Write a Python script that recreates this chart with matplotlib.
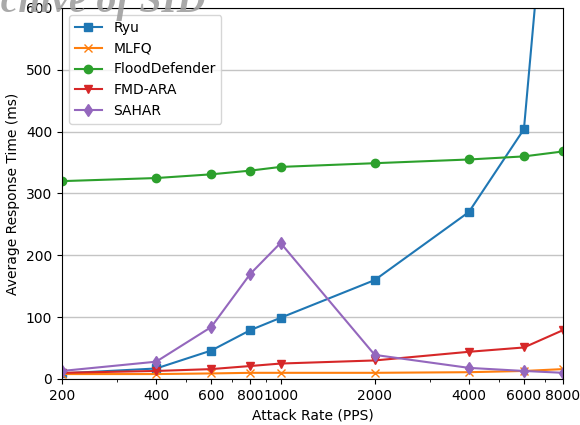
import matplotlib
matplotlib.use("Agg")
import matplotlib.pyplot as plt
from matplotlib.ticker import FixedLocator, FixedFormatter, NullFormatter

rates = [200, 400, 600, 800, 1000, 2000, 4000, 6000, 8000]
ryu = [9, 17, 46, 79, 99, 160, 270, 404, 1110]
mlfq = [8, 8, 9, 10, 10, 10, 11, 13, 16]
flood = [320, 325, 331, 337, 343, 349, 355, 360, 368]
fmd = [10, 13, 16, 21, 25, 30, 44, 51, 79]
sahar = [13, 28, 84, 170, 220, 39, 18, 13, 10]
tick_labels = ["200", "400", "600", "800", "1000", "2000", "4000", "6000", "8000"]

fig = plt.figure(figsize=(5.8, 4.25), dpi=100)
ax = fig.add_axes([62/580, 46/425, 501/580, 371/425])

ax.plot(rates, ryu, marker="s", color="#1f77b4", label="Ryu")
ax.plot(rates, mlfq, marker="x", color="#ff7f0e", label="MLFQ")
ax.plot(rates, flood, marker="o", color="#2ca02c", label="FloodDefender")
ax.plot(rates, fmd, marker="v", color="#d62728", label="FMD-ARA")
ax.plot(rates, sahar, marker="d", color="#9467bd", label="SAHAR")

ax.set_xscale("log")
ax.set_xlim(200, 8000)
ax.set_ylim(0, 600)
ax.xaxis.set_major_locator(FixedLocator(rates))
ax.xaxis.set_major_formatter(FixedFormatter(tick_labels))
ax.xaxis.set_minor_formatter(NullFormatter())
ax.yaxis.grid(True, color="#c4c4c4", linewidth=1.0)
ax.set_axisbelow(True)
ax.set_xlabel("Attack Rate (PPS)")
ax.set_ylabel("Average Response Time (ms)")
ax.legend(loc="upper left")

fig.text(206/580, 1 - 12/425, "Archive of SID", ha="right", va="baseline",
         fontsize=28.5, fontstyle="italic", fontweight="bold",
         family="Liberation Serif", color="#a0a0a0", alpha=0.9)

fig.savefig("out.png", dpi=100)
